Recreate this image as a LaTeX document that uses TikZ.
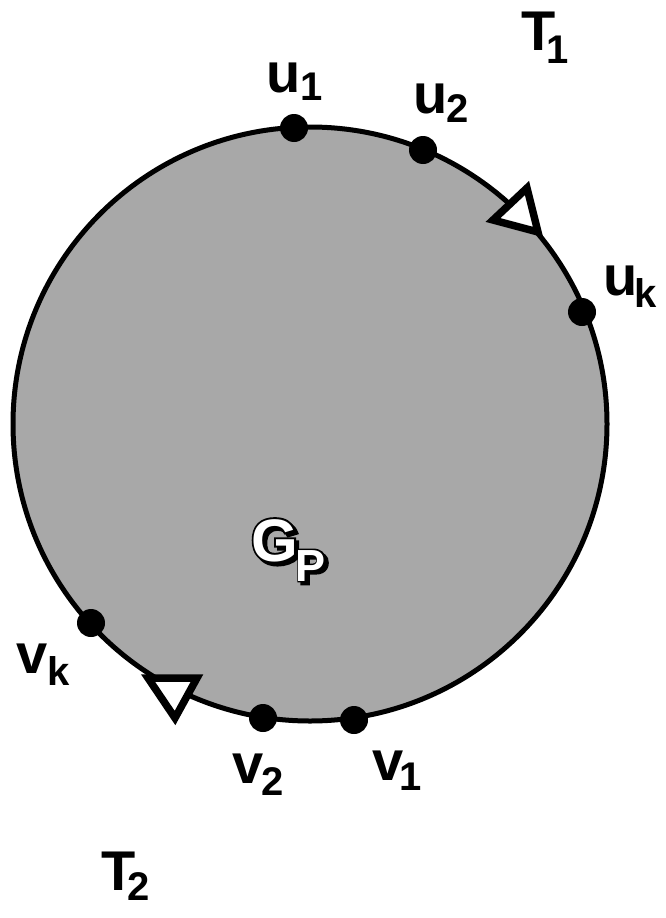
\documentclass[tikz,border=0pt]{standalone}
\usepackage{fontspec}
\setmainfont{Liberation Sans}
\newfontfamily\gpthick{Liberation Sans Bold}[FakeBold=6.5]
\newcommand\mysub[3]{\kern#1pt\raisebox{-#2pt}{\fontsize{40}{40}\selectfont #3}}
\tikzset{
  lbl/.style={anchor=base west, inner sep=0pt, font=\bfseries\fontsize{56}{56}\selectfont},
  gpl/.style={anchor=base west, inner sep=0pt, font=\bfseries\fontsize{60}{60}\selectfont},
  gpt/.style={anchor=base west, inner sep=0pt, font=\gpthick\fontsize{60}{60}\selectfont},
  vdot/.style={circle, fill=black, inner sep=0pt, minimum size=28pt},
  region/.style={draw=black, line width=5pt, fill=black!34},
  arrowtri/.style={draw=black, fill=white, line width=7.5pt, line join=miter},
}
\newcommand\gpcontent{G\kern-2pt\raisebox{-20pt}{\fontsize{45}{45}\selectfont P}}
\begin{document}
\begin{tikzpicture}[x=1pt,y=-1pt]
  \useasboundingbox (0,0) rectangle (665,918);
  % region G_P
  \node[region, circle, minimum size=594pt, inner sep=0pt] (gp) at (310,424) {};
  % orientation triangles
  \coordinate (ta1) at (493,220);
  \coordinate (ta2) at (527,188);
  \coordinate (ta3) at (538,232);
  \draw[arrowtri] (ta1) -- (ta2) -- (ta3) -- cycle;
  \coordinate (tb1) at (148,678);
  \coordinate (tb2) at (197,678);
  \coordinate (tb3) at (175,718);
  \draw[arrowtri] (tb1) -- (tb2) -- (tb3) -- cycle;
  % vertices
  \node[vdot] (u1) at (294,128) {};
  \node[vdot] (u2) at (423,150) {};
  \node[vdot] (uk) at (582,312) {};
  \node[vdot] (vk) at (91,623) {};
  \node[vdot] (v2) at (263,718) {};
  \node[vdot] (v1) at (354,720) {};
  % labels
  \node[lbl] (lu1) at (266.3,92) {u\mysub{0}{8}{1}};
  \node[lbl] (lu2) at (413.3,113) {u\mysub{-1}{9}{2}};
  \node[lbl] (luk) at (603.3,295) {u\mysub{-3}{12}{k}};
  \node[lbl] (lvk) at (16.5,673) {v\mysub{0}{12}{k}};
  \node[lbl] (lv2) at (232.5,783) {v\mysub{-2}{12}{2}};
  \node[lbl] (lv1) at (372.5,780) {v\mysub{-4}{10}{1}};
  \node[lbl] (lt1) at (520.8,50) {T\mysub{-9}{13}{1}};
  \node[lbl] (lt2) at (100.8,890) {T\mysub{-8}{10}{2}};
  % outlined, shadowed G_P
  \node[gpt, text=black] (gpshadow) at (254,564) {\gpcontent};
  \node[gpt, text=black] (gpoutline) at (251,561) {\gpcontent};
  \node[gpl, text=white] (gplabel) at (251,561) {\gpcontent};
\end{tikzpicture}
\end{document}
